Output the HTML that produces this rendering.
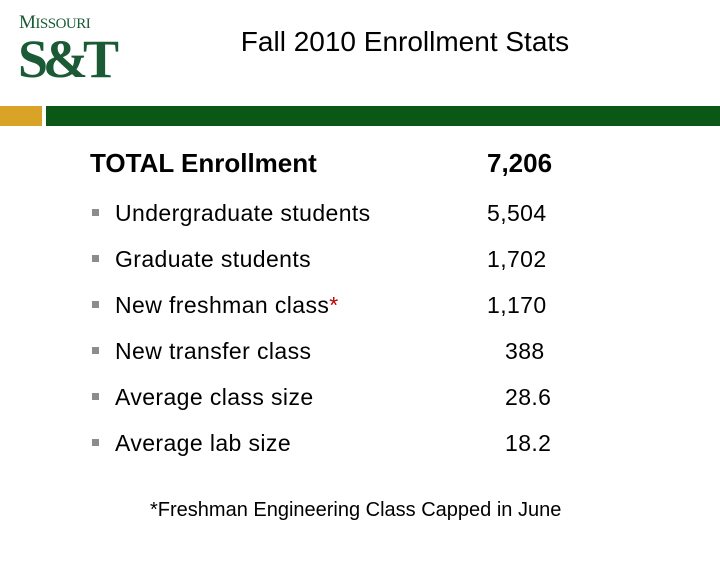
<!DOCTYPE html>
<html><head><meta charset="utf-8"><style>
body{margin:0;width:720px;height:569px;background:#fff;position:relative;overflow:hidden;font-family:"Liberation Sans",sans-serif;color:#000}
div,span{position:absolute}
.t{font-size:23px;white-space:nowrap;letter-spacing:0.4px}
.b{left:92px;width:7px;height:7px;background:#8c8c8c}
</style></head><body>
<div style="left:18px;top:10px;width:92px;height:80px;color:#1a5a35;font-family:'Liberation Serif',serif">
<span style="left:1px;top:2px;font-size:19px;letter-spacing:-0.5px">M<span style="position:static;font-size:15px">ISSOURI</span></span>
<span style="left:0;top:18px;font-size:54px;font-weight:bold;letter-spacing:-5px">S&amp;T</span>
</div>
<div style="left:160px;width:490px;top:26px;text-align:center;font-size:28px">Fall 2010 Enrollment Stats</div>
<div style="left:0;top:106px;width:42px;height:20px;background:#d8a326"></div>
<div style="left:46px;top:106px;width:674px;height:20px;background:#0b5716"></div>
<div class="t" style="left:90px;top:148px;font-size:26px;font-weight:bold;letter-spacing:0">TOTAL Enrollment</div>
<div class="t" style="left:487px;top:148px;font-size:26px;font-weight:bold;letter-spacing:0">7,206</div>

<div class="b" style="top:209px"></div>
<div class="t" style="left:115px;top:200px">Undergraduate students</div>
<div class="t" style="left:487px;top:200px">5,504</div>

<div class="b" style="top:255px"></div>
<div class="t" style="left:115px;top:246px">Graduate students</div>
<div class="t" style="left:487px;top:246px">1,702</div>

<div class="b" style="top:301px"></div>
<div class="t" style="left:115px;top:292px">New freshman class<span style="position:static;color:#c00000">*</span></div>
<div class="t" style="left:487px;top:292px">1,170</div>

<div class="b" style="top:347px"></div>
<div class="t" style="left:115px;top:338px">New transfer class</div>
<div class="t" style="left:505px;top:338px">388</div>

<div class="b" style="top:393px"></div>
<div class="t" style="left:115px;top:384px">Average class size</div>
<div class="t" style="left:505px;top:384px">28.6</div>

<div class="b" style="top:439px"></div>
<div class="t" style="left:115px;top:430px">Average lab size</div>
<div class="t" style="left:505px;top:430px">18.2</div>

<div style="left:150px;top:499px;font-size:20px;white-space:nowrap">*Freshman Engineering Class Capped in June</div>
</body></html>
